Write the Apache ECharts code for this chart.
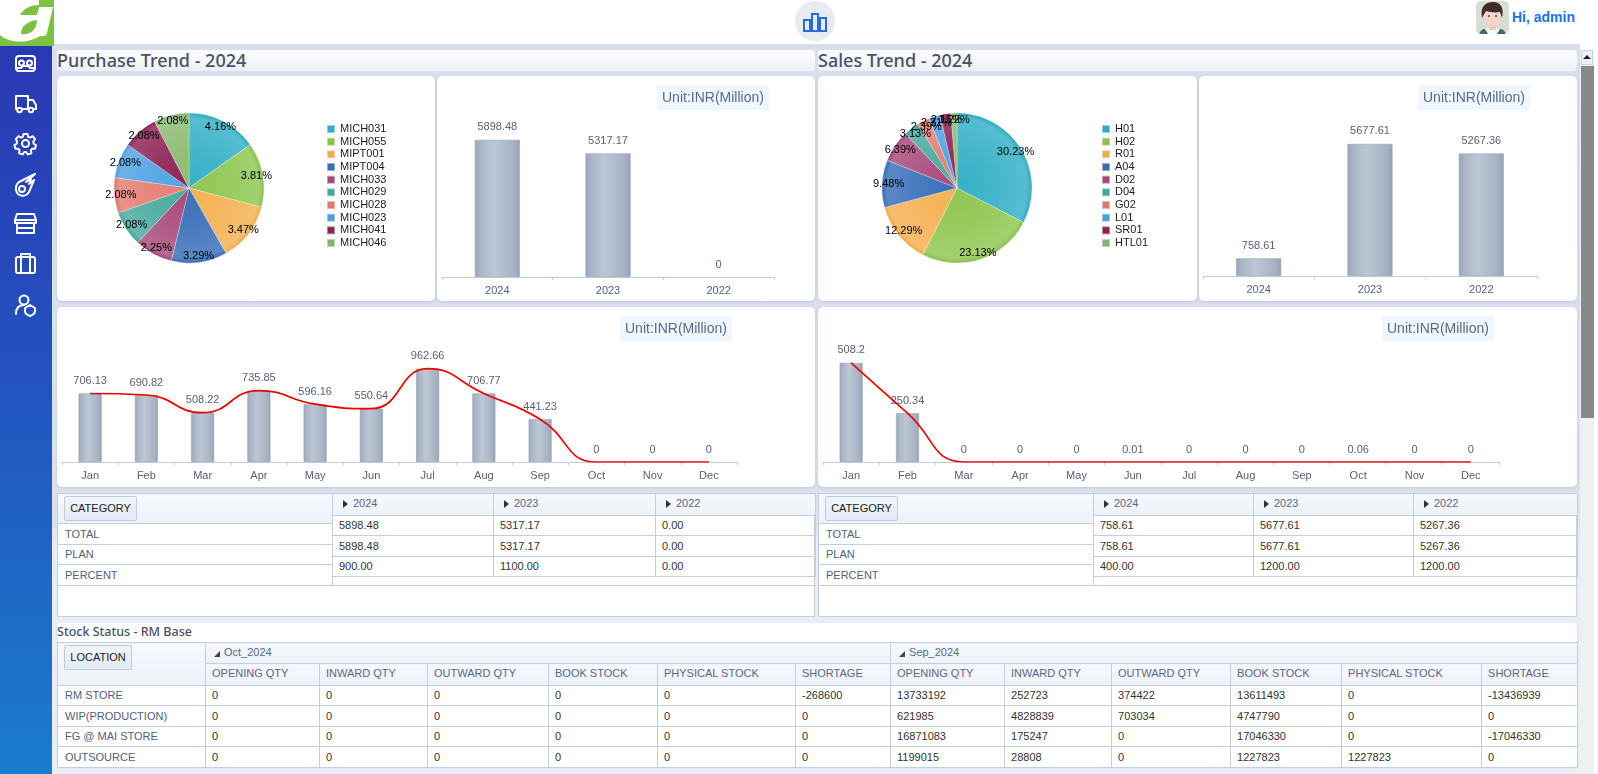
<!DOCTYPE html>
<html><head><meta charset="utf-8">
<script src="https://cdn.jsdelivr.net/npm/echarts@6/dist/echarts.min.js"></script>
<style>
*{box-sizing:border-box}
html,body{margin:0;padding:0;width:1598px;height:774px;overflow:hidden;background:#fff;font-family:"Liberation Sans",Arial,sans-serif}
.a{position:absolute}
#bg{left:52px;top:44px;width:1528px;height:730px;background:linear-gradient(#d9deec 0,#dde1ee 480px,#e9edf8 500px,#e9edf8 100%)}
#side{left:0;top:44px;width:52px;height:730px;background:linear-gradient(#2a38b4,#2352bf 45%,#1a7ccd)}
.panel{position:absolute;background:#fff;border-radius:5px;box-shadow:0 1px 3px rgba(120,130,165,.28)}
.ttl{position:absolute;height:21px;background:linear-gradient(#fdfdfe,#eef0f7);border-radius:4px;font:500 18px/20px "Noto Sans",sans-serif;color:#4a5068;white-space:nowrap;overflow:hidden}
.box{position:absolute;background:#fff;border:1px solid #c3cfe0}
table{border-collapse:collapse;table-layout:fixed;position:absolute;font-size:11px;color:#333}
td,th{border:1px solid #c3cfe0;padding:0 0 0 6px;font-weight:normal;text-align:left;white-space:nowrap;overflow:hidden;line-height:12px}
th{background:linear-gradient(#f6f8fc,#edf1f9);color:#5a6885;padding-bottom:2px}
td.l{color:#50607e;padding-left:7px}
.btn{display:inline-block;background:linear-gradient(#f0f4fa,#e4ebf5);border:1px solid #bccbde;border-radius:2px;color:#222;text-align:center;font-size:11px}
.tri{display:inline-block;width:0;height:0;border-top:4px solid transparent;border-bottom:4px solid transparent;border-left:5px solid #333;margin:0 5px 0 5px;vertical-align:-1px}
.tri2{display:inline-block;width:0;height:0;border-bottom:6px solid #444;border-left:6px solid transparent;margin:0 4px 0 2px;vertical-align:-1px}
.ico{position:absolute;left:13px;width:25px;height:25px;fill:none;stroke:#fff;stroke-width:2;stroke-linejoin:round;stroke-linecap:round}
</style></head><body>
<div class="a" id="bg"></div>
<div class="a" id="side"></div>
<svg class="a" style="left:0;top:0" width="54" height="46" viewBox="0 0 54 46">
<rect width="54" height="46" fill="#7cc242"/>
<path d="M0 0H39V7H53L47 33Q46 37 40 36C30 43 10 44 0 35Z" fill="#fff"/>
<path d="M20 15C24 8 31 5 39 5V7L37 15Z" fill="#7cc242"/>
<path d="M21 34C21 26 28 21 37 20C37 29 30 36 21 34Z" fill="#7cc242"/>
</svg>
<svg class="ico" style="top:51px" viewBox="0 0 25 25"><rect x="3" y="5" width="19" height="15" rx="3"/><circle cx="8.500" cy="12" r="2.500"/><circle cx="16.500" cy="12" r="2.500"/><path d="M3 17h5l2-2h5l2 2h5"/></svg>
<svg class="ico" style="top:91px" viewBox="0 0 25 25"><path d="M3 18V5h12v13M15 9h5l3 5v4h-3M9 18h6M3 18h1"/><circle cx="6.500" cy="19" r="2.300"/><circle cx="18" cy="19" r="2.300"/></svg>
<svg class="ico" style="top:131px" viewBox="0 0 25 25"><circle cx="12.500" cy="12.500" r="3.500"/><path d="M10.500 3h4l.6 2.800 2 .9 2.500-1.500 2.500 3-1.800 2.200.3 2.200 2.400 1.400-1 3.800-2.800-.1-1.400 1.700.6 2.800-3.700 1.200-1.500-2.400h-2l-1.500 2.400-3.700-1.200.6-2.800-1.400-1.700-2.800.1-1-3.800 2.400-1.400.3-2.200L2.900 8.200l2.500-3 2.500 1.500 2-.9z"/></svg>
<svg class="ico" style="top:172px" viewBox="0 0 25 25"><circle cx="9" cy="17" r="3"/><path d="M22 2 6 10C2 13 2 19 5 22c4 3 9 2 11-2l5-12-5 4 2-5-5 3z"/></svg>
<svg class="ico" style="top:211px" viewBox="0 0 25 25"><path d="M4 3h17l2 6H2zM2 9h21v3H2zM4 12v10h17V12M4 17h17"/></svg>
<svg class="ico" style="top:251px" viewBox="0 0 25 25"><rect x="3" y="6" width="19" height="16" rx="2"/><path d="M8 6v16M17 6v16M8 6V3h9v3"/></svg>
<svg class="ico" style="top:293px" viewBox="0 0 25 25"><circle cx="11" cy="7" r="4.500"/><path d="M3 21c0-6 3-9 8-9"/><path d="M12 15l5-3 5 3v3c0 2-2 4-5 5-3-1-5-3-5-5z"/></svg>

<div class="a" style="left:795px;top:1px;width:40px;height:40px;border-radius:50%;background:#e8ebf2"></div>
<svg class="a" style="left:802px;top:9px" width="26" height="26" viewBox="0 0 26 26" fill="none" stroke="#1f6fe0" stroke-width="2"><rect x="2" y="11" width="6" height="11"/><rect x="10" y="5" width="6" height="17"/><rect x="18" y="9" width="6" height="13"/></svg>
<svg class="a" style="left:1476px;top:1px;border-radius:5px" width="33" height="33" viewBox="0 0 33 33"><rect width="33" height="33" fill="#d9dfd0"/><path d="M3 33c2-5 8-6 13-6s11 1 14 6z" fill="#f7f7f7"/><path d="M3 33c1-3 3-5 6-5l3 5zM30 33c-1-3-3-5-6-5l-3 5z" fill="#3f6a68"/><rect x="13" y="21" width="7" height="8" fill="#f0c8bd"/><ellipse cx="16.500" cy="15" rx="8.500" ry="11" fill="#f5d3c9"/><path d="M6 17C4 6 9 1 17 1c8 0 11 6 9 16l-2-6c-5 1-11 0-14-1z" fill="#3d2e2b"/><circle cx="13" cy="15" r="1" fill="#444"/><circle cx="20" cy="15" r="1" fill="#444"/></svg>
<div class="a" style="left:1512px;top:9px;font:bold 14px 'Liberation Sans',Arial,sans-serif;color:#1a73e8;white-space:nowrap">Hi, admin</div>

<div class="ttl" style="left:57px;top:50px;width:758px">Purchase Trend - 2024</div>
<div class="ttl" style="left:818px;top:50px;width:759px">Sales Trend - 2024</div>
<div class="panel" id="pPie" style="left:57px;top:76px;width:378px;height:225px"></div>
<div class="panel" id="pBar" style="left:437px;top:76px;width:378px;height:225px"></div>
<div class="panel" id="sPie" style="left:818px;top:76px;width:379px;height:225px"></div>
<div class="panel" id="sBar" style="left:1199px;top:76px;width:378px;height:225px"></div>
<div class="panel" id="pMon" style="left:57px;top:307px;width:758px;height:180px"></div>
<div class="panel" id="sMon" style="left:818px;top:307px;width:759px;height:180px"></div>
<div id="tables"></div>
<div class="a" style="left:57px;top:623px;width:1520px;height:20px;background:#fff;border-radius:4px;box-shadow:0 1px 2px rgba(120,130,165,.35);font:500 12.5px/17px 'Noto Sans',sans-serif;color:#4a5068">Stock Status - RM Base</div>
<div id="stock"></div>

<div class="a" style="left:1580px;top:44px;width:18px;height:730px;background:#fff"></div>
<div class="a" style="left:1580px;top:50px;width:14px;height:724px;background:#f0f0f0"></div>
<div class="a" style="left:1581px;top:50px;width:12px;height:15px;background:#eef3fa;border:1px solid #c9d6e6"><div style="margin:4px auto 0;width:0;height:0;border-left:4px solid transparent;border-right:4px solid transparent;border-bottom:4px solid #222"></div></div>
<div class="a" style="left:1581px;top:66px;width:13px;height:352px;background:#888"></div>

<script>
// ---- Data ----
var purchaseCustomers = ['MICH031','MICH055','MIPT001','MIPT004','MICH033','MICH029','MICH028','MICH023','MICH041','MICH046'];
var purchaseShares = [4.16,3.81,3.47,3.29,2.25,2.08,2.08,2.08,2.08,2.08];
var salesCustomers = ['H01','H02','R01','A04','D02','D04','G02','L01','SR01','HTL01'];
var salesShares = [30.23,23.13,12.29,9.48,6.39,3.13,2.39,2.31,2.15,1.22];
var years = ['2024','2023','2022'];
var purchaseYearly = [5898.48,5317.17,0];
var salesYearly = [758.61,5677.61,5267.36];
var months = ['Jan','Feb','Mar','Apr','May','Jun','Jul','Aug','Sep','Oct','Nov','Dec'];
var purchaseMonthly = [706.13,690.82,508.22,735.85,596.16,550.64,962.66,706.77,441.23,0,0,0];
var salesMonthly = [508.2,250.34,0,0,0,0.01,0,0,0,0.06,0,0];
var pieColors = ['#35b0c6','#8fc651','#f4b152','#3a70ba','#a94a7c','#4aa99e','#e47d72','#4fa3e4','#8e2356','#8abb72'];
var rowNames = ['TOTAL','PLAN','PERCENT'];
var purchaseTable = [['5898.48','5317.17','0.00'],['5898.48','5317.17','0.00'],['900.00','1100.00','0.00']];
var salesTable = [['758.61','5677.61','5267.36'],['758.61','5677.61','5267.36'],['400.00','1200.00','1200.00']];
var stockPeriods = ['Oct_2024','Sep_2024'];
var stockColumns = ['OPENING QTY','INWARD QTY','OUTWARD QTY','BOOK STOCK','PHYSICAL STOCK','SHORTAGE'];
var stockLocations = ['RM STORE','WIP(PRODUCTION)','FG @ MAI STORE','OUTSOURCE'];
var stockOct = [[0,0,0,0,0,-268600],[0,0,0,0,0,0],[0,0,0,0,0,0],[0,0,0,0,0,0]];
var stockSep = [[13733192,252723,374422,13611493,0,-13436939],[621985,4828839,703034,4747790,0,0],[16871083,175247,0,17046330,0,-17046330],[1199015,28808,0,1227823,1227823,0]];
var unitText = 'Unit:INR(Million)';

// ---- Style helpers ----
var FONT = '"Liberation Sans",Arial,sans-serif';
var LABEL = '#56617c';
var AXIS = '#c3cde0';
function shade(hex, k){
  var n = parseInt(hex.slice(1),16), r=n>>16, g=(n>>8)&255, b=n&255;
  function f(c){ return Math.round(k>0 ? c+(255-c)*k : c*(1+k)); }
  return 'rgb('+f(r)+','+f(g)+','+f(b)+')';
}
function barFill(){
  return {type:'linear',x:0,y:0,x2:1,y2:0,colorStops:[
    {offset:0,color:'#9aa7b9'},{offset:.12,color:'#a9b5c5'},{offset:.42,color:'#bcc7d5'},
    {offset:.88,color:'#a5b1c2'},{offset:1,color:'#93a0b3'}]};
}
function unitTitle(left){
  return {text:unitText,left:left,top:9,padding:[6,5,5,5],backgroundColor:'#eff6fe',
    textStyle:{fontFamily:FONT,fontSize:14,fontWeight:'normal',color:'#5c6a85'}};
}
function categoryAxis(cats){
  return {type:'category',data:cats,
    axisLine:{lineStyle:{color:AXIS,width:1}},
    axisTick:{show:true,length:3,lineStyle:{color:AXIS}},
    axisLabel:{color:LABEL,fontFamily:FONT,fontSize:11,margin:8},
    splitLine:{show:false}};
}
function barSeries(values,width){
  return {type:'bar',barWidth:width,
    data:values.map(function(v){return {value:v,itemStyle:{borderWidth:v>=1?.6:0}};}),
    itemStyle:{color:barFill(),borderColor:'#97a4b6'},
    label:{show:true,position:'top',distance:7,color:LABEL,fontFamily:FONT,fontSize:11}};
}
function pieOption(names,shares,cx,cy,legendLeft){
  var R=75, data=names.map(function(n,i){
    var c=pieColors[i];
    return {name:n,value:shares[i],itemStyle:{color:{type:'radial',x:cx,y:cy,r:R,global:true,colorStops:[
      {offset:0,color:c},{offset:.55,color:shade(c,.08)},{offset:.93,color:shade(c,.17)},{offset:1,color:shade(c,-.03)}]}}};
  });
  var labels=names.map(function(n,i){return {name:n,value:shares[i]};});
  return {animation:false,color:pieColors,
    legend:{orient:'vertical',left:legendLeft,top:47,padding:0,itemWidth:8,itemHeight:8,itemGap:.67,icon:'rect',
      data:names,selectedMode:false,
      textStyle:{color:'#1c1c1c',fontFamily:FONT,fontSize:11,lineHeight:12}},
    series:[
      {type:'pie',center:[cx,cy],radius:[0,R],startAngle:90,clockwise:true,silent:true,data:data,
       label:{show:false},labelLine:{show:false},
       itemStyle:{borderColor:'rgba(255,255,255,.45)',borderWidth:.6}},
      {type:'pie',center:[cx,cy],radius:[56,75],startAngle:90,silent:true,data:labels,
       avoidLabelOverlap:false,minShowLabelAngle:0,labelLayout:{hideOverlap:false},
       itemStyle:{color:'rgba(0,0,0,0)'},labelLine:{show:false},
       label:{show:true,position:'inside',color:'#000',fontFamily:FONT,fontSize:11,
         formatter:function(p){return p.value.toFixed(2)+'%';}}}
    ]};
}
function yearOption(values,gridLeft,gridWidth,gridTop,titleLeft){
  return {animation:false,title:unitTitle(titleLeft),
    grid:{left:gridLeft,width:gridWidth,top:gridTop,height:180},
    xAxis:categoryAxis(years),
    yAxis:{type:'value',min:0,max:7740,show:false},
    series:[barSeries(values,45)]};
}
function monthOption(values,yMax,gridWidth,titleLeft){
  return {animation:false,title:unitTitle(titleLeft),
    grid:{left:5,width:gridWidth,top:20,height:135},
    xAxis:categoryAxis(months),
    yAxis:{type:'value',min:0,max:yMax,show:false},
    series:[barSeries(values,23),
      {type:'line',data:values,smooth:.5,symbol:'none',z:5,lineStyle:{color:'#f00000',width:1.7}}]};
}
function draw(id,opt){ echarts.init(document.getElementById(id),null,{renderer:'canvas'}).setOption(opt); }
draw('pPie',pieOption(purchaseCustomers,purchaseShares,132,112,269));
draw('sPie',pieOption(salesCustomers,salesShares,139,112,283));
draw('pBar',yearOption(purchaseYearly,5,332,21,220));
draw('sBar',yearOption(salesYearly,4,334,20,219));
draw('pMon',monthOption(purchaseMonthly,1392,675,563));
draw('sMon',monthOption(salesMonthly,692,676,564));

// ---- Tables ----
function trendTable(x,colEnds,rows,w){
  var first=colEnds[0]-x, h='<div class="box" style="left:'+x+'px;top:493px;width:'+w+'px;height:124px">';
  h+='<table style="left:-1px;top:-1px;width:'+first+'px"><col style="width:'+first+'px">';
  h+='<tr style="height:30px"><th style="padding:0 0 0 6px"><span class="btn" style="width:73px;height:25px;line-height:23px">CATEGORY</span></th></tr>';
  rowNames.forEach(function(n){h+='<tr style="height:20.5px"><td class="l" style="background:#fff">'+n+'</td></tr>';});
  h+='</table>';
  var tw=x+w-colEnds[0];
  h+='<table style="left:'+(first-1)+'px;top:-1px;width:'+tw+'px">';
  var prev=colEnds[0];
  for(var i=1;i<colEnds.length;i++){h+='<col style="width:'+(colEnds[i]-prev)+'px">';prev=colEnds[i];}
  h+='<tr style="height:21.5px">'+years.map(function(y){return '<th style="padding-left:5px"><span class="tri"></span>'+y+'</th>';}).join('')+'</tr>';
  rows.forEach(function(r){h+='<tr style="height:20.5px">'+r.map(function(v){return '<td>'+v+'</td>';}).join('')+'</tr>';});
  h+='<tr style="height:9px">'+years.map(function(){return '<td style="border-left:none;border-right:none"></td>';}).join('')+'</tr>';
  h+='</table></div>';
  return h;
}
document.getElementById('tables').innerHTML =
  trendTable(57,[332,493,655,815],purchaseTable,758)+
  trendTable(818,[1093,1253,1413,1577],salesTable,759);
var stockCols=[148,114,108,121,109,138,95,114,107,119,111,140,96];
(function(){
  var tot=stockCols.reduce(function(a,b){return a+b;},0);
  var h='<table style="left:57px;top:642px;width:'+tot+'px;background:#fff">';
  stockCols.forEach(function(c){h+='<col style="width:'+c+'px">';});
  h+='<tr style="height:21px"><th rowspan="2" style="padding:0 0 0 6px;vertical-align:top"><span class="btn" style="width:68px;height:25px;line-height:23px;margin-top:2px">LOCATION</span></th>';
  stockPeriods.forEach(function(p){h+='<th colspan="6" style="padding-left:6px"><span class="tri2"></span>'+p+'</th>';});
  h+='</tr><tr style="height:21.5px">';
  stockPeriods.forEach(function(){stockColumns.forEach(function(c){h+='<th>'+c+'</th>';});});
  h+='</tr>';
  stockLocations.forEach(function(n,i){
    h+='<tr style="height:20.5px"><td class="l">'+n+'</td>';
    stockOct[i].concat(stockSep[i]).forEach(function(v){h+='<td>'+v+'</td>';});
    h+='</tr>';
  });
  h+='</table>';
  document.getElementById('stock').innerHTML=h;
})();
</script>
</body></html>
